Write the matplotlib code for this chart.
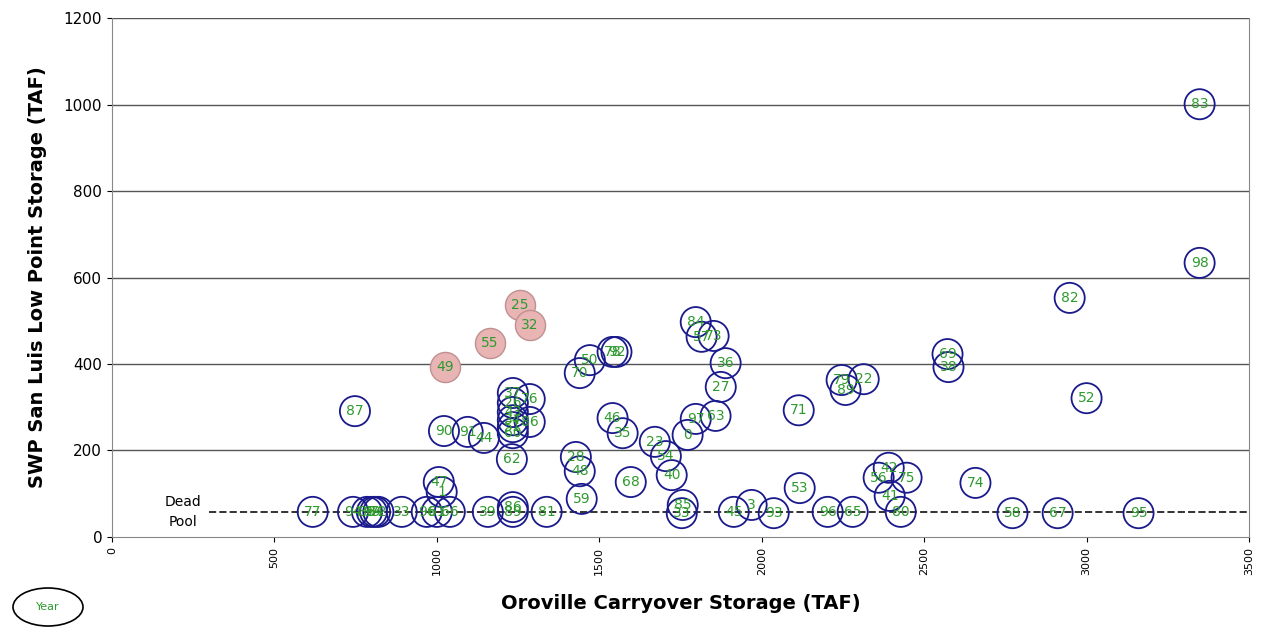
import numpy as np
import matplotlib.pyplot as plt
from matplotlib.patches import Ellipse

# Oroville carryover (TAF), San Luis low point (TAF), year label
oroville = [3348, 3348, 2948, 3000, 2572, 2575, 2658, 2772, 2911, 3160,
            1797, 1815, 1852, 1889, 1874, 1858, 1797, 1772, 1671, 1705,
            1723, 1597, 1541, 1572, 1757, 1754, 1914, 1969, 2037, 2117,
            2114, 2246, 2258, 2314, 2203, 2280, 2391, 2360, 2446, 2394,
            2428, 1541, 1553, 748, 1022, 1095, 1145, 1231, 1234, 1234,
            1234, 1234, 1234, 1234, 1286, 1286, 1440, 1471, 1428, 1440,
            1446, 1006, 1015, 618, 742, 785, 800, 810, 820, 892,
            969, 1000, 1040, 1157, 1234, 1234, 1338]
sanluis = [1001, 634, 553, 321, 423, 393, 125, 55, 55, 55,
           497, 463, 465, 402, 347, 280, 273, 236, 220, 187,
           143, 127, 275, 240, 74, 55, 58, 74, 55, 113,
           293, 363, 340, 365, 58, 58, 160, 137, 137, 95,
           58, 428, 428, 291, 245, 243, 229, 180, 333, 310,
           289, 270, 254, 240, 319, 266, 379, 409, 185, 152,
           88, 127, 104, 58, 58, 58, 58, 58, 58, 58,
           58, 58, 58, 58, 69, 58, 58]
years = ['83', '98', '82', '52', '69', '38', '74', '58', '67', '95',
         '84', '57', '73', '36', '27', '63', '97', '0', '23', '54',
         '40', '68', '46', '35', '85', '33', '45', '3', '93', '53',
         '71', '79', '89', '22', '96', '65', '42', '56', '75', '41',
         '80', '78', '92', '87', '90', '91', '44', '62', '37', '26',
         '43', '34', '51', '60', '76', '86', '70', '50', '28', '48',
         '59', '47', '1', '77', '94', '88', '99', '64', '72', '33',
         '96', '61', '66', '39', '86', '89', '81']

# wet years shaded pink
pink_oroville = [1255, 1286, 1163, 1025]
pink_sanluis = [536, 490, 448, 393]
pink_years = ['25', '32', '55', '49']

dead_pool = 58

fig = plt.figure(figsize=(12.62, 6.28), dpi=100)
ax = fig.add_axes([0.0887, 0.145, 0.901, 0.826])

for y in range(200, 1201, 200):
    ax.axhline(y, color='#555555', lw=1, zorder=0)

ax.plot([300, 3500], [dead_pool, dead_pool], ls='--', color='#333333', lw=1.4, zorder=1)
ax.text(220, dead_pool, 'Dead\nPool', ha='center', va='center', fontsize=10, linespacing=1.5)

ax.scatter(oroville, sanluis, s=470, facecolors='none', edgecolors='#1a1a8c', lw=1.3, zorder=2)
ax.scatter(pink_oroville, pink_sanluis, s=470, facecolors='#e8b4b4', edgecolors='#c09090', lw=1, zorder=2)
for xx, yy, t in zip(oroville + pink_oroville, sanluis + pink_sanluis, years + pink_years):
    ax.text(xx, yy, t, ha='center', va='center', fontsize=10, color='#2e9a2e', zorder=3)

ax.set_xlim(0, 3500)
ax.set_ylim(0, 1200)
ax.set_xticks(range(0, 3501, 500))
ax.set_xticklabels([str(v) for v in range(0, 3501, 500)], rotation=90, fontsize=8)
ax.set_yticks(range(0, 1201, 200))
ax.tick_params(axis='y', labelsize=11)
ax.spines['top'].set_visible(False)
ax.spines['right'].set_color('#888888')
ax.spines['left'].set_color('#888888')
ax.spines['bottom'].set_color('#888888')
ax.set_xlabel('Oroville Carryover Storage (TAF)', fontsize=14, fontweight='bold', labelpad=14)
ax.set_ylabel('SWP San Luis Low Point Storage (TAF)', fontsize=14, fontweight='bold', labelpad=12)

fig.patches.append(Ellipse((48 / 1262, 1 - 607 / 628), 70 / 1262, 38 / 628,
                           transform=fig.transFigure, fill=False, ec='black', lw=1.2))
fig.text(48 / 1262, 1 - 607 / 628, 'Year', ha='center', va='center', fontsize=8, color='#2e9a2e')

fig.savefig('out.png', dpi=100)
